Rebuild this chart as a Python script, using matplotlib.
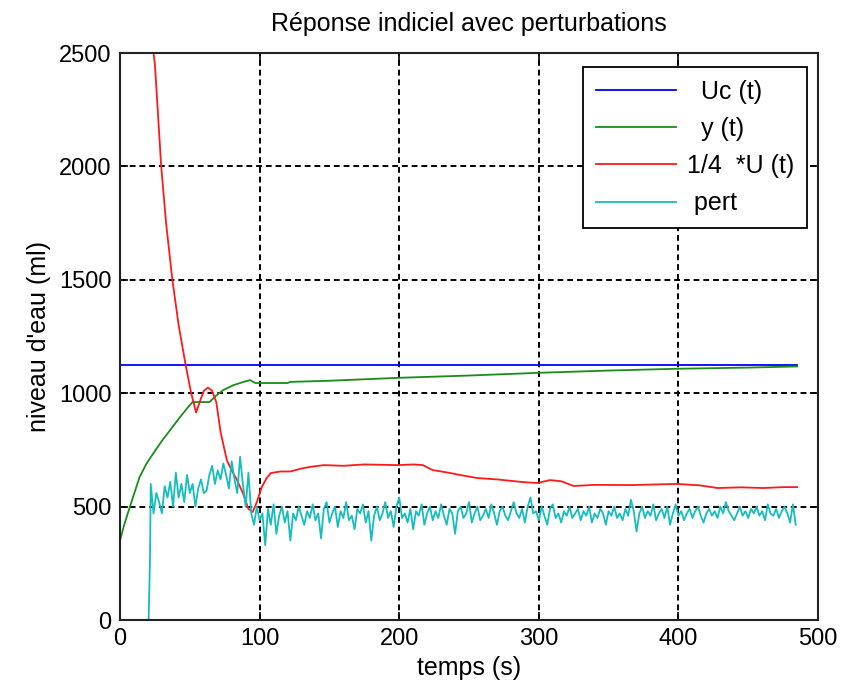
import numpy as np
import matplotlib
matplotlib.use("Agg")
import matplotlib.pyplot as plt

plt.rcParams['font.family'] = ['Liberation Sans', 'DejaVu Sans']

# Setpoint Uc(t)
uc_t = [0, 485]
uc_v = [1125, 1125]

# Water level y(t)
y_t = [0, 3, 7, 14, 19, 24, 30, 36, 43, 50, 52, 64, 69, 74, 81, 88, 93, 97,
       120, 122, 150, 200, 250, 300, 350, 400, 450, 485]
y_v = [350, 420, 498, 630, 690, 736, 790, 838, 895, 948, 961, 961, 990, 1014,
       1035, 1049, 1058, 1045, 1045, 1050, 1055, 1068, 1078, 1090, 1100, 1108,
       1113, 1118]

# Command signal scaled by 1/4
u_t = [0, 24, 25, 29.5, 33, 37.5, 42, 47, 51, 54.5, 57, 60, 63, 66, 69, 72,
       76.5, 80, 84, 88, 92, 95, 98, 101.5, 105, 108, 115, 122, 130, 136, 146,
       160, 175, 199, 210, 217, 224, 235, 244, 256, 270, 289, 299, 308, 316,
       325, 340, 366, 385, 399, 415, 428, 445, 461, 475, 485]
u_v = [2500, 2500, 2450, 2000, 1750, 1500, 1300, 1125, 1000, 915, 960, 1010,
       1025, 1010, 960, 830, 705, 660, 615, 560, 490, 476, 520, 586, 625, 648,
       655, 655, 668, 675, 683, 680, 686, 683, 686, 683, 661, 650, 639, 626,
       620, 608, 604, 617, 612, 591, 596, 595, 598, 600, 594, 582, 585, 582,
       586, 586]

# Disturbance: zero, then a step at t = 21 s with measurement noise (2 s samples)
pert_head_t = [0, 20.5, 21.5]
pert_head_v = [0, 0, 280]
pert_start, pert_dt = 22, 2
pert_v = [
    600, 470, 560, 520, 470, 590, 540, 610, 500, 650, 540, 600, 520, 640, 560, 600, 500, 580, 620, 560,
    570, 640, 680, 600, 660, 620, 690, 640, 580, 700, 620, 560, 720, 600, 500, 650,
    470, 420, 500, 440,
    470, 330, 490, 420, 510, 380, 460, 500, 430, 480, 350, 470, 440, 500, 460, 420,
    480, 450, 510, 440, 470, 360, 490, 520, 430, 470, 500, 410, 480, 450, 520, 440,
    460, 400, 490, 470, 510, 430, 480, 350, 460, 500, 440, 470, 520, 450, 480, 410,
    500, 540, 450, 470, 430, 490, 400, 480, 460, 510, 420, 470, 500, 440, 480, 450,
    510, 460, 420, 490, 470, 380, 480, 500, 450, 470, 520, 430, 470, 500, 440, 460,
    490, 450, 510, 470, 420, 480, 500, 460, 440, 480, 520, 470, 450, 490, 430, 500,
    540, 470, 480, 440, 500, 460, 420, 490, 510, 450, 470, 430, 480, 460, 500, 450,
    470, 490, 440, 480, 460, 500, 430, 470, 450, 490, 470, 420, 480, 460, 500, 450,
    470, 440, 490, 460, 530, 480, 390, 470, 500, 450, 480, 460, 510, 440, 470, 490,
    450, 500, 420, 470, 510, 460, 480, 440, 470, 490, 450, 480, 500, 460, 430, 470,
    490, 460, 480, 450, 500, 470, 520, 480, 460, 440, 470, 500, 460, 480, 450, 490,
    470, 500, 460, 480, 440, 510, 470, 460, 490, 450, 480, 500, 470, 430, 510, 420,
]
pert_t = pert_head_t + list(pert_start + pert_dt * np.arange(len(pert_v)))
pert_all = pert_head_v + pert_v

labels = ['  Uc (t)', '  y (t)', '1/4  *U (t)', ' pert']
colors = ['#0000ff', '#1a8c1a', '#ff1a1a', '#17bdbd']

x_ticks = [0, 100, 200, 300, 400, 500]
y_ticks = [0, 500, 1000, 1500, 2000, 2500]

fig = plt.figure(figsize=(8.41, 6.93), dpi=100)
ax = fig.add_axes([0.1427, 0.1053, 0.8300, 0.8182])

lw = 1.3
ax.plot(uc_t, uc_v, color=colors[0], lw=lw, label=labels[0])
ax.plot(y_t, y_v, color=colors[1], lw=lw, label=labels[1])
ax.plot(u_t, u_v, color=colors[2], lw=lw, label=labels[2])
ax.plot(pert_t, pert_all, color=colors[3], lw=lw, label=labels[3])

ax.set_xlim(0, 500)
ax.set_ylim(0, 2500)
ax.set_xticks(x_ticks)
ax.set_yticks(y_ticks)
ax.tick_params(direction='in', top=True, right=True, length=6, width=1.2,
               labelsize=17, pad=6)
ax.grid(True, color='black', linestyle=(0, (3, 2)), linewidth=1.4)
for s in ax.spines.values():
    s.set_linewidth(1.5)
    s.set_color('#222222')

ax.set_title('Réponse indiciel avec perturbations', fontsize=18, pad=16)
ax.set_xlabel('temps (s)', fontsize=18, labelpad=4)
ax.set_ylabel("niveau d'eau (ml)", fontsize=18, labelpad=6)

leg = ax.legend(loc='upper right', fontsize=18, handlelength=3.2,
                fancybox=False, framealpha=1, edgecolor='black',
                borderpad=0.5, labelspacing=0.53, handletextpad=0.45,
                borderaxespad=0, bbox_to_anchor=(0.984, 0.975))
leg.get_frame().set_linewidth(1.3)

fig.savefig('out.png', dpi=100)
